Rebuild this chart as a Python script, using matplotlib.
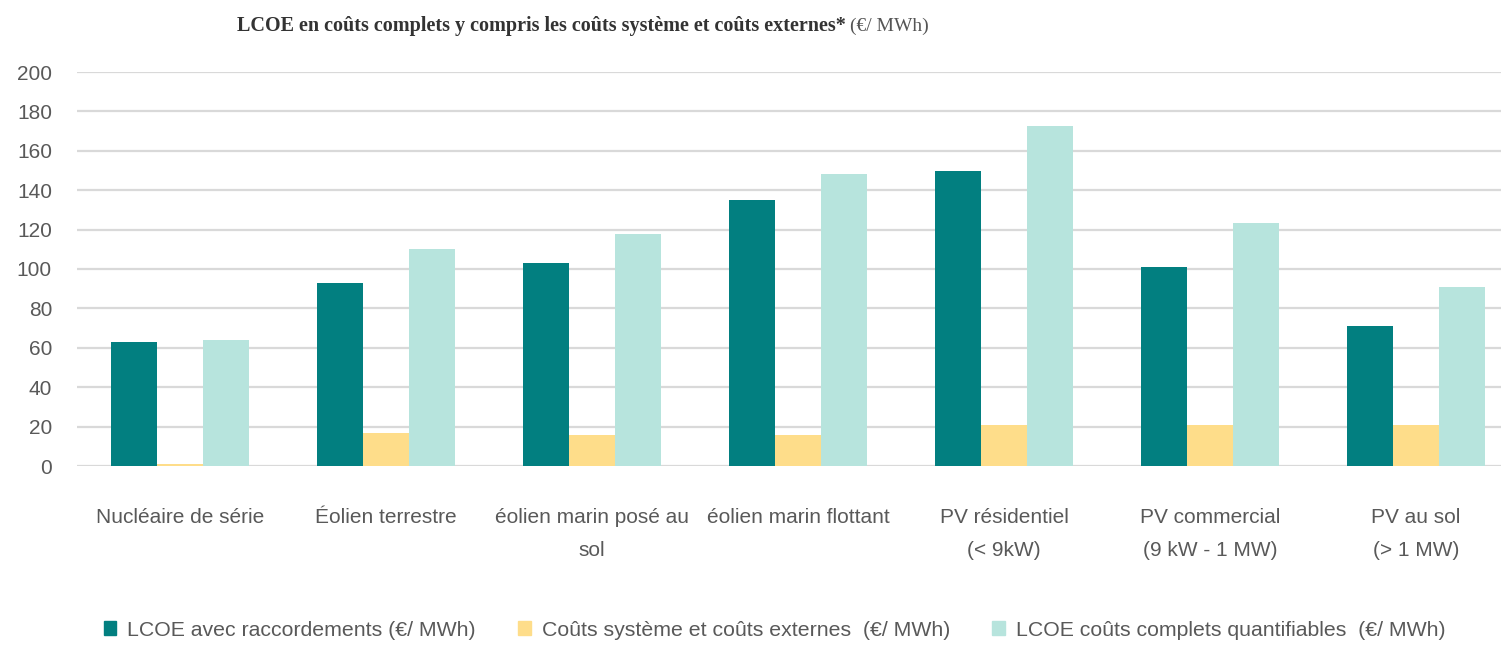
import numpy as np
import matplotlib
matplotlib.use("Agg")
import matplotlib.pyplot as plt
from matplotlib.patches import Patch
from matplotlib.transforms import offset_copy

categories = ["Nucléaire de série", "Éolien terrestre", "éolien marin posé au\nsol",
              "éolien marin flottant", "PV résidentiel\n(< 9kW)",
              "PV commercial\n(9 kW - 1 MW)", "PV au sol\n(> 1 MW)"]
lcoe_raccord = [63, 93, 103, 135, 150, 101, 71]
couts_systeme = [1, 16.5, 15.5, 15.5, 21, 21, 21]
lcoe_complets = [64, 110, 118, 148, 172.5, 123.5, 91]
series_labels = ["LCOE avec raccordements (€/ MWh)",
                 "Coûts système et coûts externes  (€/ MWh)",
                 "LCOE coûts complets quantifiables  (€/ MWh)"]
yticks = list(range(0, 201, 20))

colors = ["#027F80", "#FEDD8A", "#B7E4DD"]
txt = "#595959"
sans = ["Liberation Sans Narrow", "Liberation Sans", "DejaVu Sans"]

plt.rcParams["font.family"] = sans

fig = plt.figure(figsize=(15.01, 6.45), dpi=100)
W, H = 1501, 645
ax = fig.add_axes([77 / W, 1 - 466 / H, (W - 77) / W, (466 - 72) / H])

x = np.arange(len(categories))
w = 0.223
for i, vals in enumerate([lcoe_raccord, couts_systeme, lcoe_complets]):
    ax.bar(x + (i - 1) * w, vals, w, color=colors[i], zorder=3, label=series_labels[i])

ax.set_ylim(0, 200)
ax.set_yticks(yticks)
ax.set_xlim(-0.5, 6.5 - 18 / 206)
ax.set_xticks(x)
ax.set_xticklabels(categories, fontsize=15, color=txt, linespacing=1.95)
ax.tick_params(axis="both", length=0, labelsize=15, labelcolor=txt)
ax.tick_params(axis="y", pad=18)
ax.tick_params(axis="x", pad=30)
ax.grid(axis="y", color="#D9D9D9", linewidth=1.6, zorder=0)
for s in ax.spines.values():
    s.set_visible(False)

# titre en deux morceaux : gras puis normal
t1 = fig.text(237 / W, 1 - 26 / H,
              "LCOE en coûts complets y compris les coûts système et coûts externes*",
              family="Liberation Serif", fontweight="bold", fontsize=14.5,
              color="#333333", va="center", ha="left")
fig.canvas.draw()
bb = t1.get_window_extent()
fig.text(bb.x1 / W, 1 - 26 / H, "(€/ MWh)", family="Liberation Serif",
         fontsize=14, color="#555555", va="center", ha="left",
         transform=offset_copy(fig.transFigure, fig=fig, x=4, y=0, units="dots"))

handles = [Patch(color=c) for c in colors]
fig.legend(handles, series_labels, loc="center", bbox_to_anchor=(0.516, 1 - 630 / H),
           ncol=3, frameon=False, fontsize=15.3, labelcolor=txt,
           handlelength=0.6, handleheight=0.6, handletextpad=0.5, columnspacing=2.0)

fig.savefig("out.png", dpi=100)
